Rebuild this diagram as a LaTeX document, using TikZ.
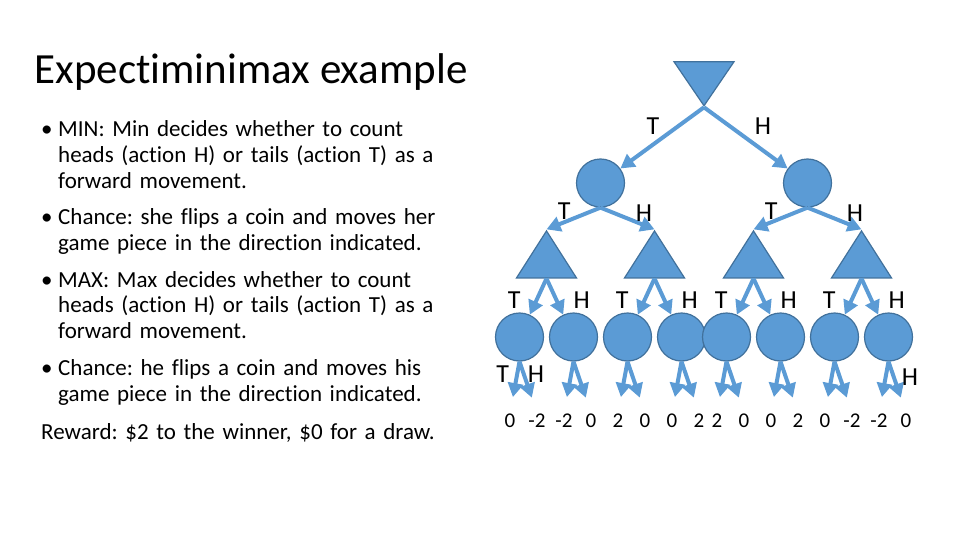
\documentclass[tikz,border=0pt]{standalone}
\usepackage{fontspec}
\setmainfont{Carlito}[Ligatures=NoCommon]
\usetikzlibrary{shapes.geometric,arrows.meta}
\definecolor{nodeblue}{HTML}{5B9BD5}
\definecolor{lineblue}{HTML}{41719C}
\newcommand{\bulletpar}[1]{\hangindent=17pt\hangafter=1\makebox[17pt][l]{\textbullet}#1\par}
\tikzset{
  minnode/.style={isosceles triangle, isosceles triangle stretches, shape border rotate=270,
    minimum width=60pt, minimum height=44pt, inner sep=0pt, fill=nodeblue, draw=lineblue, line width=1.2pt},
  maxnode/.style={minnode, minimum height=47pt, shape border rotate=90},
  chance/.style={circle, minimum size=48pt, inner sep=0pt, fill=nodeblue, draw=lineblue, line width=1.2pt},
  val/.style={font=\fontsize{21}{21}\selectfont, inner sep=0pt, text height=14pt, text depth=0pt, xshift=4pt},
  lbl/.style={font=\fontsize{26}{26}\selectfont, inner sep=1pt}
}
\begin{document}
\begin{tikzpicture}[x=1pt,y=1pt,
level 1/.style={level distance=105.4pt,sibling distance=207pt},
level 2/.style={level distance=78.5pt,sibling distance=108pt,child anchor=north},
level 3/.style={level distance=75.5pt,sibling distance=54pt,child anchor=border},
level 4/.style={level distance=83pt,sibling distance=27pt,child anchor=north},
parent anchor=south,
edge from parent/.style={draw=nodeblue,line width=4pt,-{Triangle[length=14pt,width=15pt]}},
level 4/.append style={edge from parent/.append style={shorten >=16pt}}
]
\useasboundingbox (0,0) rectangle (960,-540);
\node[anchor=base west,font=\fontsize{43}{43}\selectfont] (title) at (31,-84) {Expectiminimax example};
\node[anchor=base west,text width=440pt,align=left,inner sep=0pt,
  font=\fontsize{23}{26}\selectfont\frenchspacing] (rules) at (41,-137) {%
\setlength\parskip{10pt}%
\bulletpar{MIN: Min decides whether to count\newline heads (action H) or tails (action T) as a\newline forward movement.}
\bulletpar{Chance: she flips a coin and moves her\newline game piece in the direction indicated.}
\bulletpar{MAX: Max decides whether to count\newline heads (action H) or tails (action T) as a\newline forward movement.}
\bulletpar{Chance: he flips a coin and moves his\newline game piece in the direction indicated.}
\vspace{2pt}Reward: \$2 to the winner, \$0 for a draw.};
% min -> chance -> max -> chance -> reward
\node[minnode] (1) at (704,-77.6) {}
child{
    node[chance] (2) {}
    child {
        node[maxnode] (4) {}
        child {
            node[chance] (8) {}
            child { node[val] (16) {0} edge from parent node[lbl,left=5pt,pos=.25] {T} }
            child { node[val] (17) {-2} edge from parent node[lbl,right=1pt,pos=.25] {H} }
            edge from parent node[lbl,left=13pt,pos=.6] {T}
        }
        child {
            node[chance] (9) {}
            child { node[val] (18) {-2} }
            child { node[val] (19) {0} }
            edge from parent node[lbl,right=14pt,pos=.6] {H}
        }
        edge from parent node[lbl,above left,pos=.5,yshift=-4pt] {T}
    }
    child {
        node[maxnode] (5) {}
        child {
            node[chance] (10) {}
            child { node[val] (20) {2} }
            child { node[val] (21) {0} }
            edge from parent node[lbl,left=13pt,pos=.6] {T}
        }
        child {
            node[chance] (11) {}
            child { node[val] (22) {0} }
            child { node[val] (23) {2} }
            edge from parent node[lbl,right=14pt,pos=.6] {H}
        }
        edge from parent node[lbl,above right,pos=.6,yshift=-4pt] {H}
    }
    edge from parent node[lbl,above left] {T}
}
child {
    node[chance] (3) {}
    child {
        node[maxnode] (6) {}
        child {
            node[chance] (12) {}
            child { node[val] (24) {2} }
            child { node[val] (25) {0} }
            edge from parent node[lbl,left=13pt,pos=.6] {T}
        }
        child {
            node[chance] (13) {}
            child { node[val] (26) {0} }
            child { node[val] (27) {2} }
            edge from parent node[lbl,right=14pt,pos=.6] {H}
        }
        edge from parent node[lbl,above left,pos=.5,yshift=-4pt] {T}
    }
    child {
        node[maxnode] (7) {}
        child {
            node[chance] (14) {}
            child { node[val] (28) {0} }
            child { node[val] (29) {-2} }
            edge from parent node[lbl,left=13pt,pos=.6] {T}
        }
        child {
            node[chance] (15) {}
            child { node[val] (30) {-2} }
            child { node[val] (31) {0} edge from parent node[lbl,right=5pt,pos=.3] {H} }
            edge from parent node[lbl,right=14pt,pos=.6] {H}
        }
        edge from parent node[lbl,above right,pos=.6,xshift=4pt,yshift=-4pt] {H}
    }
    edge from parent node[lbl,above right,xshift=6pt] {H}
};
\end{tikzpicture}
\end{document}
